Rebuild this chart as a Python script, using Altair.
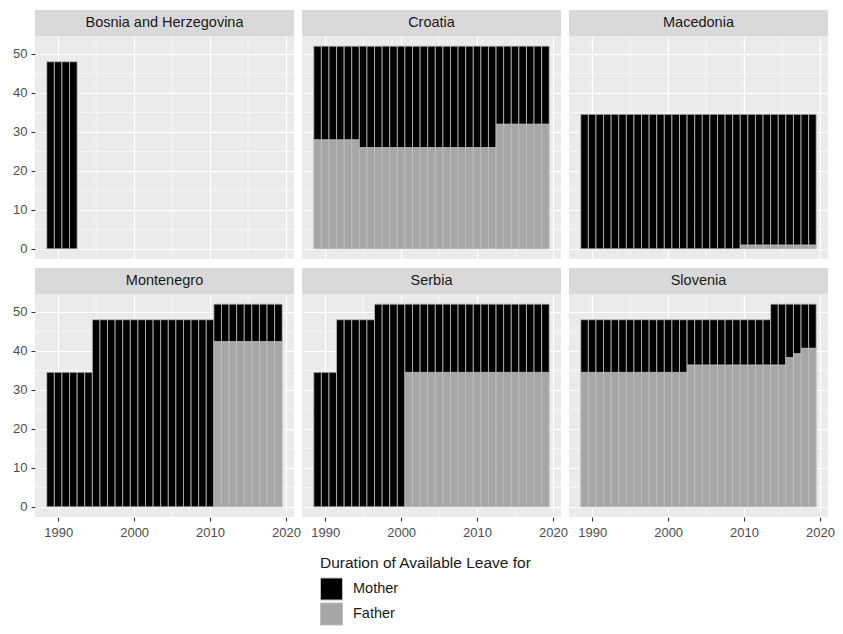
import altair as alt
import pandas as pd

FONT = "Liberation Sans"

COUNTRIES = ["Bosnia and Herzegovina", "Croatia", "Macedonia",
             "Montenegro", "Serbia", "Slovenia"]
PARENTS = ["Mother", "Father"]
PARENT_COLORS = ["#000000", "#A6A6A6"]

YEARS = [1989, 1990, 1991, 1992, 1993, 1994, 1995, 1996, 1997, 1998,
         1999, 2000, 2001, 2002, 2003, 2004, 2005, 2006, 2007, 2008,
         2009, 2010, 2011, 2012, 2013, 2014, 2015, 2016, 2017, 2018, 2019]

BIH_YEARS = [1989, 1990, 1991, 1992]
BIH_MOTHER = [48, 48, 48, 48]
BIH_FATHER = [0, 0, 0, 0]

CRO_MOTHER = [24, 24, 24, 24, 24, 24, 26, 26, 26, 26, 26, 26, 26, 26, 26, 26,
              26, 26, 26, 26, 26, 26, 26, 26, 20, 20, 20, 20, 20, 20, 20]
CRO_FATHER = [28, 28, 28, 28, 28, 28, 26, 26, 26, 26, 26, 26, 26, 26, 26, 26,
              26, 26, 26, 26, 26, 26, 26, 26, 32, 32, 32, 32, 32, 32, 32]

MKD_MOTHER = [34.5, 34.5, 34.5, 34.5, 34.5, 34.5, 34.5, 34.5, 34.5, 34.5, 34.5,
              34.5, 34.5, 34.5, 34.5, 34.5, 34.5, 34.5, 34.5, 34.5, 34.5,
              33.5, 33.5, 33.5, 33.5, 33.5, 33.5, 33.5, 33.5, 33.5, 33.5]
MKD_FATHER = [0, 0, 0, 0, 0, 0, 0, 0, 0, 0, 0, 0, 0, 0, 0, 0, 0, 0, 0, 0, 0,
              1, 1, 1, 1, 1, 1, 1, 1, 1, 1]

MNE_MOTHER = [34.5, 34.5, 34.5, 34.5, 34.5, 34.5, 48, 48, 48, 48, 48, 48, 48,
              48, 48, 48, 48, 48, 48, 48, 48, 48,
              9.6, 9.6, 9.6, 9.6, 9.6, 9.6, 9.6, 9.6, 9.6]
MNE_FATHER = [0, 0, 0, 0, 0, 0, 0, 0, 0, 0, 0, 0, 0, 0, 0, 0, 0, 0, 0, 0, 0, 0,
              42.4, 42.4, 42.4, 42.4, 42.4, 42.4, 42.4, 42.4, 42.4]

SRB_MOTHER = [34.5, 34.5, 34.5, 48, 48, 48, 48, 48, 52, 52, 52, 52,
              17.5, 17.5, 17.5, 17.5, 17.5, 17.5, 17.5, 17.5, 17.5, 17.5,
              17.5, 17.5, 17.5, 17.5, 17.5, 17.5, 17.5, 17.5, 17.5]
SRB_FATHER = [0, 0, 0, 0, 0, 0, 0, 0, 0, 0, 0, 0,
              34.5, 34.5, 34.5, 34.5, 34.5, 34.5, 34.5, 34.5, 34.5, 34.5,
              34.5, 34.5, 34.5, 34.5, 34.5, 34.5, 34.5, 34.5, 34.5]

SVN_MOTHER = [13.5, 13.5, 13.5, 13.5, 13.5, 13.5, 13.5, 13.5, 13.5, 13.5,
              13.5, 13.5, 13.5, 13.5, 11.6, 11.6, 11.6, 11.6, 11.6, 11.6,
              11.6, 11.6, 11.6, 11.6, 11.6, 15.6, 15.6, 13.7, 12.7, 11.3, 11.3]
SVN_FATHER = [34.5, 34.5, 34.5, 34.5, 34.5, 34.5, 34.5, 34.5, 34.5, 34.5,
              34.5, 34.5, 34.5, 34.5, 36.4, 36.4, 36.4, 36.4, 36.4, 36.4,
              36.4, 36.4, 36.4, 36.4, 36.4, 36.4, 36.4, 38.3, 39.3, 40.7, 40.7]

X_TICKS = [1990, 2000, 2010, 2020]
Y_TICKS = [0, 10, 20, 30, 40, 50]
MINOR_X = [1995, 2005, 2015]
MINOR_Y = [5, 15, 25, 35, 45]

SERIES = {
    "Bosnia and Herzegovina": (BIH_YEARS, BIH_MOTHER, BIH_FATHER),
    "Croatia": (YEARS, CRO_MOTHER, CRO_FATHER),
    "Macedonia": (YEARS, MKD_MOTHER, MKD_FATHER),
    "Montenegro": (YEARS, MNE_MOTHER, MNE_FATHER),
    "Serbia": (YEARS, SRB_MOTHER, SRB_FATHER),
    "Slovenia": (YEARS, SVN_MOTHER, SVN_FATHER),
}

rows = []
for c, (yrs, mo, fa) in SERIES.items():
    for y, m, f in zip(yrs, mo, fa):
        if f > 0:
            rows.append({"country": c, "year": y, "parent": "Father", "order": 0, "weeks": f})
        if m > 0:
            rows.append({"country": c, "year": y, "parent": "Mother", "order": 1, "weeks": m})
df = pd.DataFrame(rows)

W, H = 259, 223
STRIP = 26
XS = alt.Scale(domain=[1986.95, 2021.05], nice=False, zero=False)
YS = alt.Scale(domain=[-2.6, 54.6], nice=False, zero=False)
COLOR = alt.Color("parent:N", scale=alt.Scale(domain=PARENTS, range=PARENT_COLORS),
                  legend=alt.Legend(title="Duration of Available Leave for"))


def panel(name, col, row):
    d = df[df.country == name]
    show_x = row == 1
    show_y = col == 0
    xaxis = alt.Axis(values=X_TICKS, format="d", labels=show_x, ticks=show_x,
                     domain=False, grid=True, labelPadding=5)
    yaxis = alt.Axis(values=Y_TICKS, labels=show_y, ticks=show_y,
                     domain=False, grid=True, labelPadding=4)

    minor_x = alt.Chart(pd.DataFrame({"v": MINOR_X})).mark_rule(
        color="white", strokeWidth=0.6).encode(
        x=alt.X("v:Q", scale=XS, axis=xaxis, title=None))
    minor_y = alt.Chart(pd.DataFrame({"v": MINOR_Y})).mark_rule(
        color="white", strokeWidth=0.6).encode(
        y=alt.Y("v:Q", scale=YS, axis=yaxis, title=None))

    bars = alt.Chart(d).transform_calculate(
        x0="datum.year - 0.5", x1="datum.year + 0.5"
    ).transform_stack(
        stack="weeks", groupby=["year"], as_=["y0", "y1"],
        sort=[alt.SortField(field="order", order="ascending")]
    ).mark_bar(stroke="#BEBEBE", strokeWidth=0.8).encode(
        x=alt.X("x0:Q", scale=XS, axis=xaxis, title=None),
        x2="x1:Q",
        y=alt.Y("y0:Q", scale=YS, axis=yaxis, title=None),
        y2="y1:Q",
        color=COLOR,
    )

    sdf = pd.DataFrame({"country": [name]})
    strip_rect = alt.Chart(sdf).mark_rect(color="#D9D9D9").encode(
        x=alt.value(0), x2=alt.value(W), y=alt.value(-STRIP), y2=alt.value(0))
    strip_text = alt.Chart(sdf).mark_text(
        font=FONT, fontSize=14.5, color="#1A1A1A").encode(
        text="country:N", x=alt.value(W / 2), y=alt.value(-STRIP / 2))

    return alt.layer(minor_x, minor_y, bars, strip_rect, strip_text).properties(
        width=W, height=H)


panels = [panel(COUNTRIES[i], i % 3, i // 3) for i in range(6)]

chart = alt.concat(
    *panels, columns=3, bounds="flush",
    spacing=alt.RowColnumber(row=STRIP + 9, column=8)
).properties(
    padding={"left": 4, "top": 2, "right": 0, "bottom": 0}
).configure_view(
    fill="#EBEBEB", strokeWidth=0
).configure_axis(
    labelFont=FONT, labelFontSize=13, labelColor="#4D4D4D",
    tickColor="#333333", tickSize=4, tickWidth=1.1,
    gridColor="white", gridWidth=1.2, minExtent=0
).configure_legend(
    orient="none", legendX=285, legendY=520, padding=0,
    titleFont=FONT, titleFontSize=15.5, titleFontWeight="normal", titleColor="#1A1A1A",
    titlePadding=6, titleLimit=400, labelFont=FONT, labelFontSize=14.5,
    labelColor="#1A1A1A", labelOffset=10, symbolType="square", symbolSize=484,
    symbolStrokeColor="#BEBEBE", symbolStrokeWidth=1, rowPadding=-5
)

chart.save("out.html", embed_options={"renderer": "svg", "actions": False})
